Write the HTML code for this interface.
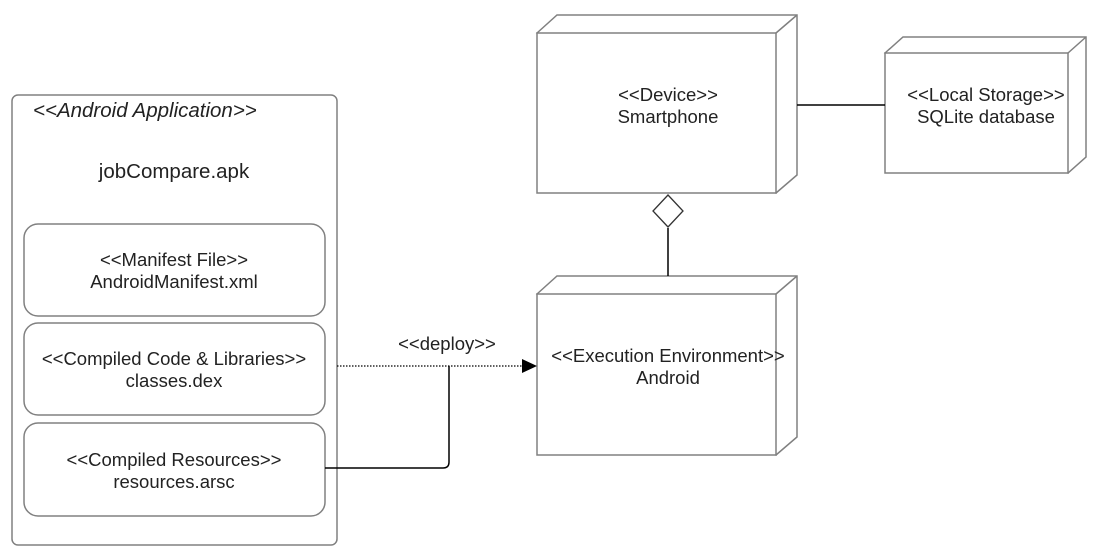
<!DOCTYPE html>
<html><head><meta charset="utf-8"><style>
html,body{margin:0;padding:0;background:#fff;}
svg{display:block;}
text{font-family:"Liberation Sans",Arial,sans-serif;font-size:18.5px;fill:#222;}
</style></head><body>
<svg width="1106" height="553" viewBox="0 0 1106 553" xmlns="http://www.w3.org/2000/svg">
<g fill="#fff" stroke="#808080" stroke-width="1.5">
<rect x="12" y="95" width="325" height="450" rx="6"/>
<rect x="24" y="224" width="301" height="92" rx="14"/>
<rect x="24" y="323" width="301" height="92" rx="14"/>
<rect x="24" y="423" width="301" height="93" rx="14"/>
<path d="M537 33 L557 15 L797 15 L797 175 L776 193 Z"/>
<rect x="537" y="33" width="239" height="160"/>
<path d="M776 33 L797 15"/>
<path d="M885 53 L903 37 L1086 37 L1086 157 L1068 173 Z"/>
<rect x="885" y="53" width="183" height="120"/>
<path d="M1068 53 L1086 37"/>
<path d="M537 294 L557 276 L797 276 L797 437 L776 455 Z"/>
<rect x="537" y="294" width="239" height="161"/>
<path d="M776 294 L797 276"/>
</g>
<g stroke="#000" stroke-width="1.5" fill="none">
<line x1="797" y1="105" x2="885" y2="105"/>
<line x1="668" y1="228" x2="668" y2="276"/>
<path d="M325 468 L443 468 Q449 468 449 462 L449 366"/>
<line x1="337" y1="366" x2="524" y2="366" stroke-dasharray="1.5 1.5" stroke-width="1.2"/>
</g>
<path d="M668 195 L683 211 L668 227 L653 211 Z" fill="#fff" stroke="#333" stroke-width="1.3"/>
<path d="M522 359 L537 366 L522 373 Z" fill="#000"/>
<g text-anchor="middle">
<text x="668" y="101">&lt;&lt;Device&gt;&gt;</text>
<text x="668" y="123">Smartphone</text>
<text x="986" y="101">&lt;&lt;Local Storage&gt;&gt;</text>
<text x="986" y="123">SQLite database</text>
<text x="668" y="362">&lt;&lt;Execution Environment&gt;&gt;</text>
<text x="668" y="384">Android</text>
<text x="447" y="350">&lt;&lt;deploy&gt;&gt;</text>
<text x="174" y="178" style="font-size:20.5px">jobCompare.apk</text>
<text x="174" y="266">&lt;&lt;Manifest File&gt;&gt;</text>
<text x="174" y="288">AndroidManifest.xml</text>
<text x="174" y="365">&lt;&lt;Compiled Code &amp; Libraries&gt;&gt;</text>
<text x="174" y="387">classes.dex</text>
<text x="174" y="466">&lt;&lt;Compiled Resources&gt;&gt;</text>
<text x="174" y="488">resources.arsc</text>
</g>
<text x="33" y="117" style="font-size:20.5px;font-style:italic">&lt;&lt;Android Application&gt;&gt;</text>
</svg>
</body></html>
